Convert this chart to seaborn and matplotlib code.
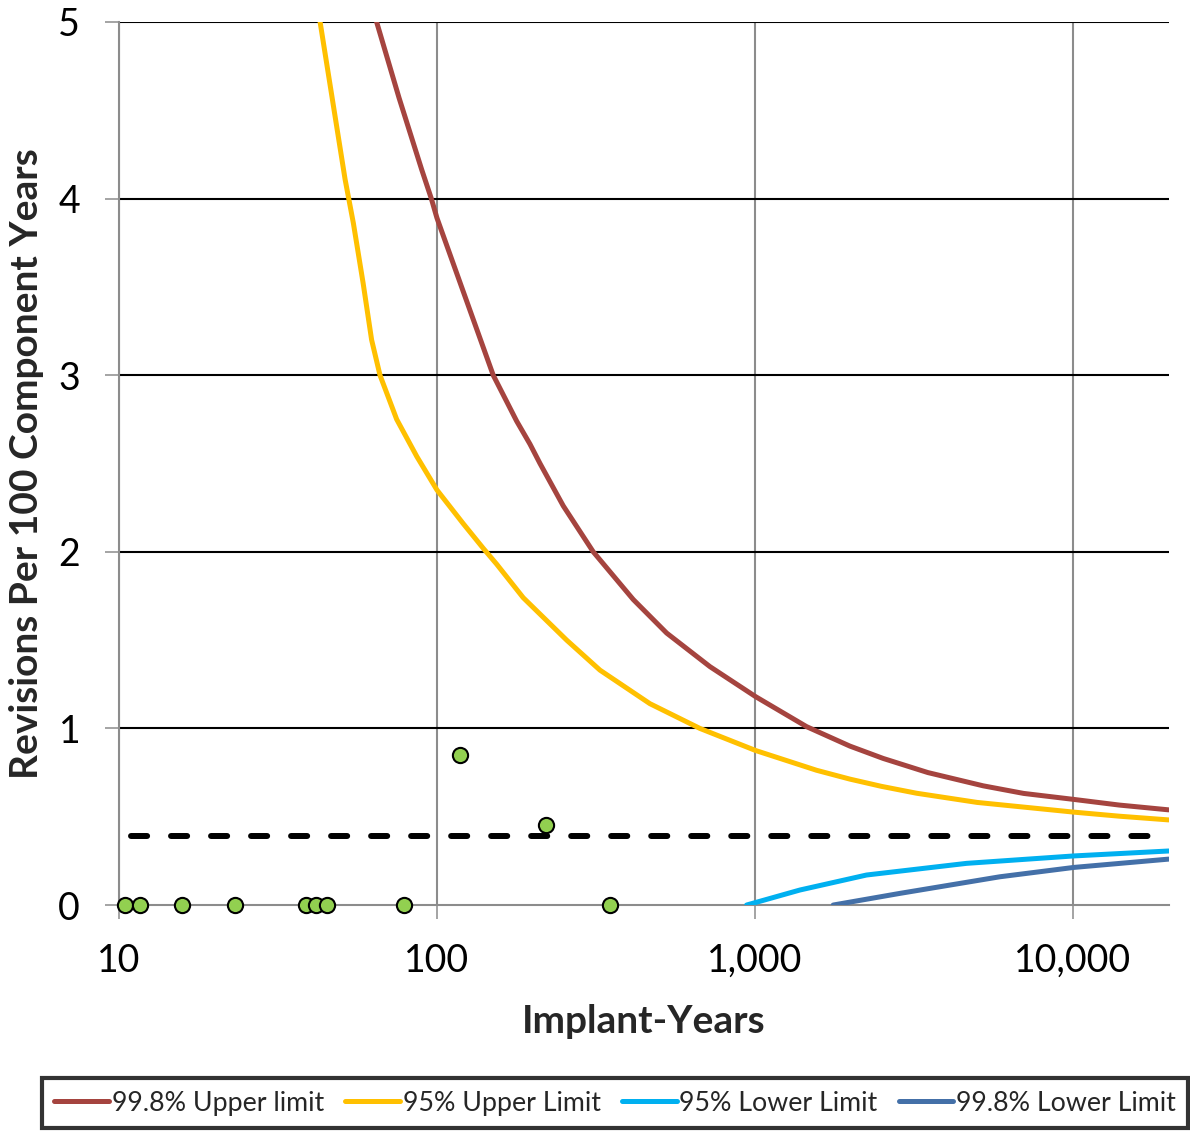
import numpy as np
import pandas as pd
import seaborn as sns
import matplotlib.pyplot as plt
from matplotlib.ticker import FixedLocator, FuncFormatter, NullLocator

sns.set_theme(style="white")
plt.rcParams['font.family'] = ['Lato', 'DejaVu Sans']

# curves (implant-years, revisions per 100 component years)
upper998_x = [64.6, 76, 89.5, 96, 100, 120.9, 150.3, 178.1, 196.1, 210.9, 249.6, 310.1, 414.3,
              527.7, 721.9, 1005, 1454, 1989, 2532, 3500, 5223, 7000, 10072, 14000, 20000]
upper998_y = [5.0, 4.57, 4.165, 4.0, 3.89, 3.475, 3.0, 2.74, 2.61, 2.50, 2.26, 2.00, 1.73,
              1.54, 1.35, 1.18, 1.01, 0.90, 0.83, 0.75, 0.675, 0.632, 0.598, 0.566, 0.539]

upper95_x = [42.9, 51.4, 54.6, 58.6, 62.3, 66.2, 74.7, 86.4, 100, 120.9, 139.8, 154.1,
             186.8, 255.8, 325.6, 467.6, 671.4, 1005, 1563, 1989, 2500, 3225, 5000,
             10072, 14000, 20000]
upper95_y = [5.0, 4.11, 3.86, 3.52, 3.20, 3.00, 2.75, 2.54, 2.35, 2.16, 2.02, 1.93,
             1.74, 1.50, 1.33, 1.14, 1.00, 0.875, 0.763, 0.713, 0.672, 0.633, 0.581,
             0.526, 0.503, 0.482]

lower95_x = [941.7, 1385, 2245, 4632, 10072, 20000]
lower95_y = [0.0, 0.085, 0.17, 0.236, 0.278, 0.306]

lower998_x = [1763, 2858, 5894, 10072, 20000]
lower998_y = [0.0, 0.066, 0.16, 0.213, 0.26]

series_names = ['99.8% Upper limit', '95% Upper Limit', '95% Lower Limit', '99.8% Lower Limit']
series_colors = ['#A5443F', '#FFC000', '#00B0F0', '#4470A8']

# observed components
obs_x = [10.44, 11.64, 15.78, 23.1, 38.7, 41.6, 45.0, 78.7, 118, 220, 350]
obs_y = [0, 0, 0, 0, 0, 0, 0, 0, 0.847, 0.4545, 0]

mean_rate = 0.393
mean_x = [10.9, 20000]

frames = []
for name, xs, ys in zip(series_names,
                        [upper998_x, upper95_x, lower95_x, lower998_x],
                        [upper998_y, upper95_y, lower95_y, lower998_y]):
    frames.append(pd.DataFrame({'years': xs, 'rate': ys, 'limit': name}))
curves = pd.concat(frames, ignore_index=True)

fig = plt.figure(figsize=(11.9, 11.32), dpi=100)
ax = fig.add_axes([0.1, 0.2005, 0.882, 0.7801])

sns.lineplot(data=curves, x='years', y='rate', hue='limit', hue_order=series_names,
             palette=series_colors, estimator=None, sort=True, linewidth=3.6,
             ax=ax, zorder=3)
for ln in ax.get_lines():
    ln.set_solid_joinstyle('round')
    ln.set_solid_capstyle('round')
ax.plot(mean_x, [mean_rate, mean_rate], color='black', lw=4.3, ls=(0, (2.7, 4.0)),
        dash_capstyle='round', zorder=3, label='_nolegend_')
sns.scatterplot(x=obs_x, y=obs_y, s=120, color='#92D050', edgecolor='black',
                linewidth=1.5, ax=ax, zorder=4, clip_on=False, label='_nolegend_')

ax.set_xscale('log')
ax.set_xlim(10, 20000)
ax.set_ylim(0, 5)
ax.xaxis.set_major_locator(FixedLocator([10, 100, 1000, 10000]))
ax.xaxis.set_minor_locator(NullLocator())
ax.xaxis.set_major_formatter(FuncFormatter(lambda v, p: f"{v:,.0f}"))
ax.set_yticks([0, 1, 2, 3, 4, 5])

ax.set_axisbelow(True)
ax.grid(axis='y', color='black', lw=1.5)
ax.grid(axis='x', color='#8C8C8C', lw=1.5)
ax.yaxis.get_gridlines()[0].set_visible(False)

for s in ['top', 'right']:
    ax.spines[s].set_visible(False)
for s in ['left', 'bottom']:
    ax.spines[s].set_color('#8C8C8C')
    ax.spines[s].set_linewidth(1.5)

ax.tick_params(axis='both', which='major', direction='out', length=10, width=1.1,
               color='#8C8C8C', labelsize=27, labelcolor='black')
ax.tick_params(axis='x', pad=17, bottom=True)
ax.tick_params(axis='y', pad=18, left=True)

ax.set_xlabel('Implant-Years', fontsize=28, fontweight='bold', labelpad=18)
ax.set_ylabel('Revisions Per 100 Component Years', fontsize=28, fontweight='bold', labelpad=10)

handles, labels = ax.get_legend_handles_labels()
ax.get_legend().remove()
keep = [(h, l) for h, l in zip(handles, labels) if l in series_names]
leg = fig.legend([h for h, l in keep], [l for h, l in keep], loc='center',
                 bbox_to_anchor=(0.517, 0.0256), ncol=4, fontsize=19.3,
                 frameon=True, fancybox=False, handlelength=2.05, handletextpad=0.1,
                 columnspacing=0.78, borderpad=0.45)
leg.get_frame().set_edgecolor('black')
leg.get_frame().set_linewidth(3)
for line in leg.get_lines():
    line.set_linewidth(3.6)

fig.savefig('out.png', dpi=100)
